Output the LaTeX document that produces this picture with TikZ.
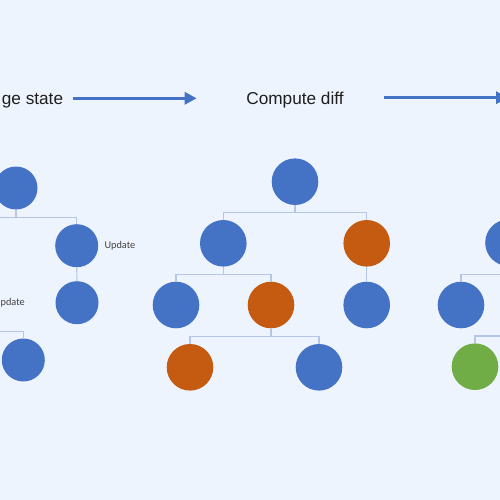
\documentclass[tikz,border=0pt]{standalone}
\usepackage{fontspec}
\setmainfont{Liberation Sans}
\newfontfamily\calib{Carlito}
\usetikzlibrary{arrows.meta}
\definecolor{bg}{HTML}{EEF4FE}
\definecolor{nblue}{HTML}{4472C4}
\definecolor{norange}{HTML}{C55A11}
\definecolor{ngreen}{HTML}{70AD47}
\definecolor{conn}{HTML}{B4C7E7}
\definecolor{txt}{HTML}{1E1E1E}
\tikzset{
  big/.style={circle,inner sep=0pt,minimum size=46.6pt,draw=none},
  small/.style={circle,inner sep=0pt,minimum size=43pt,draw=none},
  cb/.style={fill=nblue},
  co/.style={fill=norange},
  cg/.style={fill=ngreen},
  link/.style={draw=conn,line width=1.1pt},
  flow/.style={draw=nblue,line width=3pt,-{Triangle[length=12pt,width=12pt]}},
  title/.style={font=\fontsize{17.2}{20}\selectfont,text=txt,inner sep=0pt,anchor=base},
  upd/.style={font=\calib\fontsize{10.3}{12}\selectfont,text=txt!85,inner sep=0pt},
}
\begin{document}
\begin{tikzpicture}[x=1pt,y=-1pt]
\fill[bg] (0,0) rectangle (500,500);
\useasboundingbox (0,0) rectangle (500,500);
\clip (0,0) rectangle (500,500);
% titles and flow arrows
\node[title,anchor=base east] (t1) at (63.3,105) {ge state};
\node[title] (t2) at (295,105) {Compute diff};
\coordinate (a1s) at (73.3,98.3);
\coordinate (a1e) at (196.7,98.3);
\coordinate (a2s) at (384,97.7);
\coordinate (a2e) at (508,97.7);
\draw[flow] (a1s) -- (a1e);
\draw[flow] (a2s) -- (a2e);
% left tree
\node[small,cb] (L0) at (16,188) {};
\node[small,cb] (L1) at (76.7,245.7) {};
\node[small,cb] (L2) at (77,302.7) {};
\node[small,cb] (L3) at (23.3,360) {};
\coordinate (Lx1) at (-10,217.3);
\coordinate (Lx2) at (-10,331.7);
\node[upd,anchor=west] (u1) at (104.3,245.7) {Update};
\node[upd,anchor=east] (u2) at (25,302.7) {Update};
\begin{scope}[on background layer/.style={}]
\end{scope}
\draw[link] (L0.south) -- ++(0,8) -| (L1.north);
\draw[link] (L0.south) -- ++(0,8) -- (Lx1);
\draw[link] (L1.south) -- (L2.north);
\draw[link] (Lx2) -| (L3.north);
% middle tree
\node[big,cb] (M0) at (295,181.7) {};
\node[big,cb] (M1) at (223.3,243.3) {};
\node[big,co] (M2) at (366.7,243.3) {};
\node[big,cb] (M3) at (176,305) {};
\node[big,co] (M4) at (271,305) {};
\node[big,cb] (M5) at (366.7,305) {};
\node[big,co] (M6) at (190,367.3) {};
\node[big,cb] (M7) at (319,367.3) {};
\draw[link] (M0.south) -- ++(0,7.7) -| (M1.north);
\draw[link] (M0.south) -- ++(0,7.7) -| (M2.north);
\draw[link] (M1.south) -- ++(0,7.7) -| (M3.north);
\draw[link] (M1.south) -- ++(0,7.7) -| (M4.north);
\draw[link] (M2.south) -- (M5.north);
\draw[link] (M4.south) -- ++(0,7.7) -| (M6.north);
\draw[link] (M4.south) -- ++(0,7.7) -| (M7.north);
% right tree
\node[big,cb] (R1) at (508.5,242.7) {};
\node[big,cb] (R2) at (461,305) {};
\node[big,cg] (R3) at (475,366.7) {};
\coordinate (Rx) at (510,336);
\draw[link] (R1.south) -- ++(0,8) -| (R2.north);
\draw[link] (Rx) -| (R3.north);
\end{tikzpicture}
\end{document}
